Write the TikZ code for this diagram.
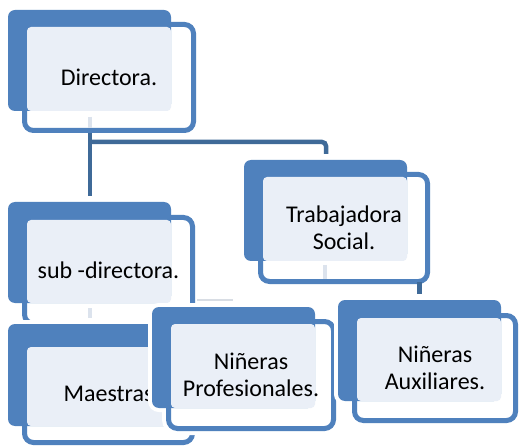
\documentclass[tikz,border=0pt]{standalone}
\usepackage{fontspec}
\setmainfont{Carlito}
\usetikzlibrary{calc}
\definecolor{boxblue}{HTML}{4F81BD}
\definecolor{connblue}{HTML}{3F6A98}
\definecolor{lightfill}{HTML}{EAEFF7}
\definecolor{fadedconn}{HTML}{DCE3ED}
\definecolor{faintline}{HTML}{D8DDE4}
\tikzset{
  halofront/.style={draw=white, line width=13pt, rounded corners=9pt},
  haloback/.style={draw=white, line width=8pt, rounded corners=7pt},
  frontbox/.style={draw=boxblue, line width=5pt, fill=white, rounded corners=9pt},
  backbox/.style={fill=boxblue, rounded corners=7pt},
  lightbox/.style={fill=lightfill, rounded corners=4pt},
  lbl/.style={align=center, text=black, inner sep=0pt, font=\fontsize{24pt}{27.5pt}\selectfont},
  conn/.style={draw=connblue, line width=4.5pt},
  fconn/.style={draw=fadedconn, line width=4.5pt},
}
\newcommand{\orgunit}[6]{%
  \coordinate (#1-btl) at #2;
  \coordinate (#1-bbr) at #3;
  \coordinate (#1-ftl) at #4;
  \coordinate (#1-fbr) at #5;
  \draw[halofront] ($(#1-ftl)+(2.5,2.5)$) rectangle ($(#1-fbr)-(2.5,2.5)$);
  \draw[haloback] (#1-btl) rectangle (#1-bbr);
  \draw[frontbox] ($(#1-ftl)+(2.5,2.5)$) rectangle ($(#1-fbr)-(2.5,2.5)$);
  \fill[backbox] (#1-btl) rectangle (#1-bbr);
  \fill[lightbox] ($(#1-ftl)+(5,5)$) rectangle (#1-bbr);
  \node[lbl] (#1) at ($(#1-ftl)!0.5!(#1-fbr)$) {#6};
}
\begin{document}
\begin{tikzpicture}[x=1pt, y=-1pt]
\useasboundingbox[fill=white] (0,0) rectangle (519,446);
\orgunit{dir}{(8,10)}{(171,111)}{(22,22)}{(196,133)}{Directora.}
\orgunit{sub}{(8,202)}{(171,303)}{(22,215)}{(195,326)}{sub -directora.}
\orgunit{trab}{(244,160)}{(407,261)}{(258,172)}{(430,284)}{Trabajadora\\Social.}
\orgunit{mae}{(8,324)}{(171,426)}{(22,342)}{(195,445)}{Maestras}
\orgunit{nprof}{(152,307)}{(315,408)}{(166,319)}{(336,431)}{Niñeras\\Profesionales.}
\orgunit{naux}{(338,300)}{(501,401)}{(352,313)}{(518,423)}{Niñeras\\Auxiliares.}
% connectors
\coordinate (c-din) at (90,117);
\coordinate (c-dinb) at (90,128);
\coordinate (c-dout) at (90,133);
\coordinate (c-subtop) at (90,196);
\coordinate (c-junc) at (90,142);
\coordinate (c-trabtop) at (326,154);
\coordinate (c-sin) at (90,308);
\coordinate (c-sinb) at (90,318);
\coordinate (c-tin) at (325,265);
\coordinate (c-tinb) at (325,279);
\coordinate (c-stubtop) at (419.5,282);
\coordinate (c-stubbot) at (419.5,294);
\coordinate (c-fa) at (197,300);
\coordinate (c-fb) at (233,300);
\draw[fconn] (c-din) -- (c-dinb);
\draw[conn] (c-dout) -- (c-subtop);
\draw[conn, rounded corners=4pt] (c-junc) -| (c-trabtop);
\draw[fconn] (c-sin) -- (c-sinb);
\draw[fconn] (c-tin) -- (c-tinb);
\draw[conn] (c-stubtop) -- (c-stubbot);
\draw[draw=faintline, line width=1.2pt] (c-fa) -- (c-fb);
\end{tikzpicture}
\end{document}
